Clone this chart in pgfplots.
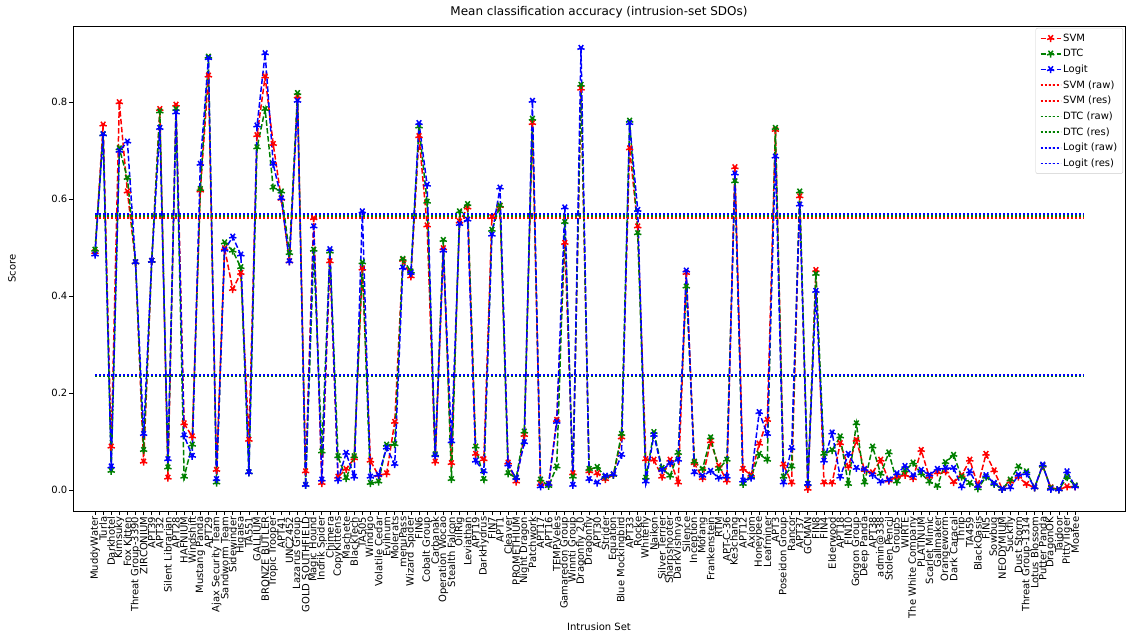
\documentclass[border=0pt]{standalone}
\usepackage{pgfplots}
\usepackage{pgfplotstable}
\pgfplotsset{compat=1.18}
\usepackage{fontspec}
\setmainfont{DejaVu Sans}
\usetikzlibrary{plotmarks}
\definecolor{mred}{HTML}{FF0000}
\definecolor{mgreen}{HTML}{008000}
\definecolor{mblue}{HTML}{0000FF}

\pgfplotstableread{
x svm dtc logit
0 0.490 0.495 0.485
1 0.753 0.733 0.733
2 0.089 0.039 0.048
3 0.799 0.704 0.699
4 0.615 0.643 0.718
5 0.469 0.469 0.469
6 0.058 0.082 0.115
7 0.472 0.472 0.472
8 0.785 0.780 0.746
9 0.025 0.046 0.063
10 0.794 0.785 0.778
11 0.137 0.027 0.112
12 0.110 0.093 0.070
13 0.617 0.620 0.672
14 0.854 0.893 0.890
15 0.041 0.015 0.022
16 0.498 0.510 0.495
17 0.414 0.493 0.522
18 0.447 0.459 0.485
19 0.103 0.036 0.036
20 0.731 0.706 0.751
21 0.852 0.785 0.900
22 0.713 0.623 0.672
23 0.600 0.615 0.601
24 0.471 0.488 0.471
25 0.811 0.818 0.802
26 0.038 0.010 0.010
27 0.560 0.495 0.543
28 0.014 0.079 0.021
29 0.471 0.491 0.496
30 0.027 0.069 0.021
31 0.043 0.024 0.076
32 0.065 0.069 0.027
33 0.456 0.469 0.574
34 0.060 0.014 0.027
35 0.030 0.017 0.031
36 0.034 0.093 0.087
37 0.140 0.094 0.053
38 0.474 0.476 0.458
39 0.440 0.450 0.447
40 0.729 0.749 0.756
41 0.545 0.594 0.629
42 0.058 0.073 0.071
43 0.498 0.515 0.493
44 0.055 0.022 0.100
45 0.553 0.574 0.548
46 0.582 0.589 0.557
47 0.074 0.089 0.060
48 0.063 0.022 0.038
49 0.562 0.536 0.526
50 0.585 0.586 0.623
51 0.056 0.034 0.052
52 0.017 0.025 0.024
53 0.113 0.120 0.098
54 0.756 0.765 0.802
55 0.012 0.021 0.007
56 0.012 0.008 0.012
57 0.144 0.048 0.140
58 0.509 0.552 0.582
59 0.034 0.027 0.010
60 0.827 0.835 0.911
61 0.038 0.043 0.022
62 0.034 0.047 0.015
63 0.022 0.027 0.029
64 0.031 0.031 0.032
65 0.108 0.115 0.072
66 0.704 0.761 0.756
67 0.543 0.529 0.577
68 0.063 0.025 0.017
69 0.062 0.119 0.113
70 0.027 0.045 0.041
71 0.062 0.029 0.055
72 0.015 0.076 0.062
73 0.447 0.419 0.452
74 0.055 0.058 0.036
75 0.024 0.043 0.029
76 0.100 0.108 0.039
77 0.050 0.043 0.025
78 0.019 0.062 0.027
79 0.665 0.636 0.652
80 0.043 0.012 0.019
81 0.031 0.027 0.025
82 0.095 0.074 0.160
83 0.144 0.062 0.115
84 0.742 0.746 0.687
85 0.052 0.027 0.015
86 0.015 0.048 0.086
87 0.605 0.615 0.588
88 0.002 0.012 0.012
89 0.453 0.445 0.410
90 0.015 0.074 0.060
91 0.015 0.082 0.118
92 0.096 0.110 0.027
93 0.048 0.012 0.074
94 0.103 0.137 0.045
95 0.041 0.015 0.043
96 0.036 0.089 0.031
97 0.062 0.033 0.017
98 0.019 0.077 0.021
99 0.027 0.017 0.034
100 0.031 0.040 0.049
101 0.024 0.056 0.030
102 0.082 0.034 0.041
103 0.027 0.017 0.031
104 0.036 0.008 0.043
105 0.038 0.057 0.045
106 0.016 0.072 0.045
107 0.030 0.027 0.007
108 0.062 0.014 0.038
109 0.009 0.003 0.008
110 0.074 0.027 0.030
111 0.040 0.012 0.014
112 0.002 0.002 0.002
113 0.017 0.021 0.005
114 0.027 0.048 0.031
115 0.012 0.038 0.034
116 0.005 0.005 0.005
117 0.050 0.050 0.052
118 0.005 0.004 0.002
119 0.001 0.001 0.001
120 0.007 0.026 0.038
121 0.007 0.009 0.007
}\datatable

\begin{document}
\begin{tikzpicture}
\path[use as bounding box] (-73pt,-124pt) rectangle (1053pt,511pt);
\begin{axis}[
  scale only axis,
  width=1052pt, height=485pt,
  xmin=-2.72, xmax=127.16,
  ymin=-0.0433, ymax=0.9567,
  axis line style={line width=0.8pt},
  tick align=outside, tick pos=left,
  major tick length=3.5pt,
  tick style={line width=0.8pt, black},
  xtick={0,...,121},
  xticklabels={MuddyWater,Turla,Darkhotel,Kimsuky,Fox Kitten,Threat Group-3390,ZIRCONIUM,APT39,APT32,Silent Librarian,APT28,HAFNIUM,Windshift,Mustang Panda,APT29,Ajax Security Team,Sandworm Team,Sidewinder,Higaisa,TA551,GALLIUM,BRONZE BUTLER,Tropic Trooper,APT41,UNC2452,Lazarus Group,GOLD SOUTHFIELD,Magic Hound,Indrik Spider,Chimera,CopyKittens,Machete,BlackTech,TA505,Windigo,Volatile Cedar,Evilnum,Molerats,menuPass,Wizard Spider,FIN6,Cobalt Group,Carbanak,Operation Wocao,Stealth Falcon,OilRig,Leviathan,APT19,DarkHydrus,FIN7,APT1,Cleaver,PROMETHIUM,Night Dragon,Patchwork,APT17,APT16,TEMP.Veles,Gamaredon Group,Winnti Group,Dragonfly 2.0,Dragonfly,APT30,Strider,Equation,Blue Mockingbird,APT33,Rocke,Whitefly,Naikon,Silver Terrier,Sharpshooter,DarkVishnya,Silence,Inception,Mofang,Frankenstein,RTM,APT-C-36,Ke3chang,APT12,Axiom,Honeybee,Leafminer,APT3,Poseidon Group,Rancor,APT37,GCMAN,FIN8,FIN4,Elderwood,APT18,FIN10,Gorgon Group,Deep Panda,APT38,admin@338,Stolen Pencil,Group5,WIRTE,The White Company,PLATINUM,Scarlet Mimic,Gallmaker,Orangeworm,Dark Caracal,Thrip,TA459,BlackOasis,FIN5,Sowbug,NEODYMIUM,Suckfly,Dust Storm,Threat Group-1314,Lotus Blossom,Putter Panda,DragonOK,Taidoor,PittyTiger,Moafee},
  xticklabel style={rotate=90, anchor=east, font=\fontsize{10}{12}\selectfont, inner sep=2pt},
  ytick={0,0.2,0.4,0.6,0.8},
  yticklabel style={font=\fontsize{10}{12}\selectfont, inner sep=2pt},
  /pgf/number format/assume math mode=true,
  yticklabel={\pgfmathprintnumber[fixed,fixed zerofill,precision=1]{\tick}},
  title={Mean classification accuracy (intrusion-set SDOs)},
  title style={font=\fontsize{12}{14}\selectfont, at={(axis description cs:0.5,1)}, anchor=south, yshift=-2pt},
  xlabel={Intrusion Set},
  xlabel style={font=\fontsize{10}{12}\selectfont, at={(axis description cs:0.5,0)}, anchor=center, yshift=-116pt},
  ylabel={Score},
  ylabel style={font=\fontsize{10}{12}\selectfont, at={(axis description cs:0,0.5)}, anchor=center, yshift=61pt},
  legend style={at={(1,1)}, anchor=north east, xshift=-2pt, yshift=-2pt,
    font=\fontsize{10}{12}\selectfont, draw=black!20, rounded corners=2pt,
    fill=white, fill opacity=0.8, text opacity=1, draw opacity=1,
    nodes={inner sep=1.6pt}, row sep=3.4pt, inner xsep=4pt, inner ysep=4pt},
  legend cell align=left,
  legend image code/.code={
    \draw[mark repeat=2,mark phase=2] plot coordinates {(0pt,0pt) (10pt,0pt) (20pt,0pt)};
  },
  mainline/.style={line width=1.5pt, dash pattern=on 5.55pt off 2.4pt,
    mark=10-pointed star, mark size=3.8pt, mark options={solid, line width=0.6pt}},
  dotline/.style={draw=#1, color=#1, line width=1.9pt, dash pattern=on 1.9pt off 2.1pt},
]
\addplot[mainline, color=mred, mark options={fill=mred}] table[x=x, y=svm] {\datatable};
\addlegendentry{SVM}
\addplot[mainline, color=mgreen, mark options={fill=mgreen}] table[x=x, y=dtc] {\datatable};
\addlegendentry{DTC}
\addplot[mainline, color=mblue, mark options={fill=mblue}] table[x=x, y=logit] {\datatable};
\addlegendentry{Logit}
\addplot[dotline=mred] coordinates {(0,0.561) (122,0.561)};
\addlegendentry{SVM (raw)}
\addplot[dotline=mred] coordinates {(0,0.2355) (122,0.2355)};
\addlegendentry{SVM (res)}
\addplot[dotline=mgreen] coordinates {(0,0.565) (122,0.565)};
\addlegendentry{DTC (raw)}
\addplot[dotline=mgreen] coordinates {(0,0.2355) (122,0.2355)};
\addlegendentry{DTC (res)}
\addplot[dotline=mblue] coordinates {(0,0.569) (122,0.569)};
\addlegendentry{Logit (raw)}
\addplot[dotline=mblue] coordinates {(0,0.2362) (122,0.2362)};
\addlegendentry{Logit (res)}
\end{axis}
\end{tikzpicture}
\end{document}
